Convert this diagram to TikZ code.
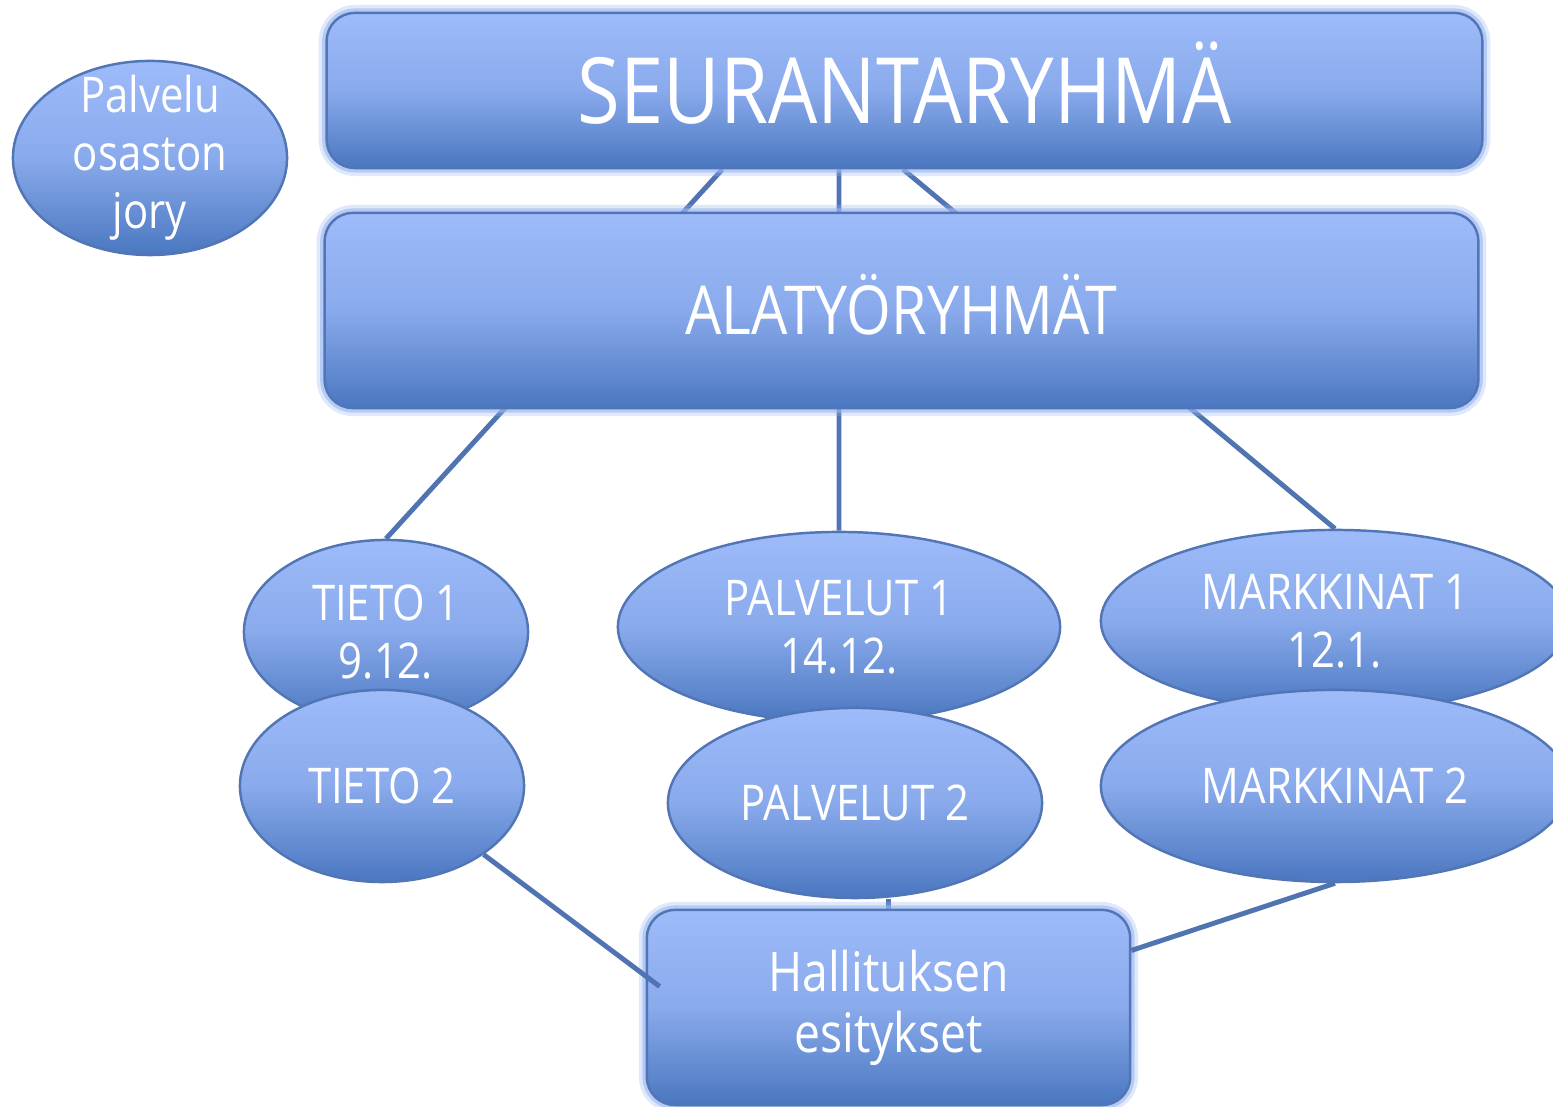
\documentclass[tikz,border=0pt]{standalone}
\usepackage{fontspec}
\setmainfont{Open Sans}[FakeStretch=0.85]
\usetikzlibrary{shapes.geometric,backgrounds}
\definecolor{lightb}{HTML}{9EBBFA}
\definecolor{darkb}{HTML}{4A77C0}
\definecolor{edgeb}{HTML}{5275B5}
\definecolor{lineb}{HTML}{5074B2}
\definecolor{glowb}{HTML}{9AB6F2}
\tikzset{
  blueshade/.style={top color=lightb, bottom color=darkb, middle color=lightb!75!darkb},
  oval/.style={ellipse, blueshade, draw=edgeb, line width=0.7pt, text=white, align=center,
    inner sep=0pt, font=\fontsize{14}{16.5}\selectfont},
  panel/.style={rectangle, rounded corners=0.28cm, blueshade, draw=edgeb, line width=0.7pt,
    text=white, align=center, inner sep=0pt,
    preaction={draw=glowb, line width=0.16cm, opacity=0.3},
    preaction={draw=glowb, line width=0.09cm, opacity=0.6}},
  link/.style={draw=lineb, line width=1.4pt}
}
\begin{document}
\begin{tikzpicture}[x=0.01cm, y=-0.01cm]
\clip (0,0) rectangle (1553,1107);

\node[oval, inner ysep=-0.5cm, minimum width=2.74cm, minimum height=1.94cm] (jory) at (150,158) {Palvelu\\osaston\\jory};

\node[panel, minimum width=11.55cm, minimum height=1.55cm, text height=18.6pt, text depth=0pt,
  font=\fontsize{26}{30}\selectfont] (seur) at (904.5,90.5) {SEURANTARYHMÄ};
\node[panel, minimum width=11.53cm, minimum height=1.95cm, text height=13.7pt, text depth=0pt,
  font=\fontsize{19.2}{22}\selectfont] (alaty) at (901.5,310.5) {ALATYÖRYHMÄT};

\node[oval, minimum width=2.84cm, minimum height=1.84cm] (tieto1) at (386,632) {TIETO 1\\9.12.};
\node[oval, minimum width=2.84cm, minimum height=1.92cm] (tieto2) at (382,786) {TIETO 2};
\node[oval, minimum width=4.42cm, minimum height=1.90cm] (pal1) at (839,627) {PALVELUT 1\\14.12.};
\node[oval, minimum width=3.74cm, minimum height=1.90cm] (pal2) at (855,803) {PALVELUT 2};
\node[oval, minimum width=4.68cm, minimum height=1.82cm] (mark1) at (1335,621) {MARKKINAT 1\\12.1.};
\node[oval, minimum width=4.68cm, minimum height=1.92cm] (mark2) at (1335,786) {MARKKINAT 2};

\node[panel, minimum width=4.83cm, minimum height=1.95cm, font=\fontsize{15.5}{17.4}\selectfont]
  (hall) at (888.5,1007.5) {Hallituksen\\esitykset};

\begin{scope}[on background layer]
  \draw[link] ([xshift=-1.82cm]seur.south) -- (tieto1.north);
  \draw[link] ([xshift=-0.655cm]seur.south) -- (pal1.north);
  \draw[link] ([xshift=-0.015cm]seur.south) -- (mark1.north);
  \draw[link] (hall.north) -- (hall.north |- pal2.south);
\end{scope}

\draw[link] (tieto2.-34) -- ([xshift=0.14cm, yshift=0.21cm]hall.west);
\draw[link] (mark2.south) -- ([yshift=0.57cm]hall.east);
\end{tikzpicture}
\end{document}
